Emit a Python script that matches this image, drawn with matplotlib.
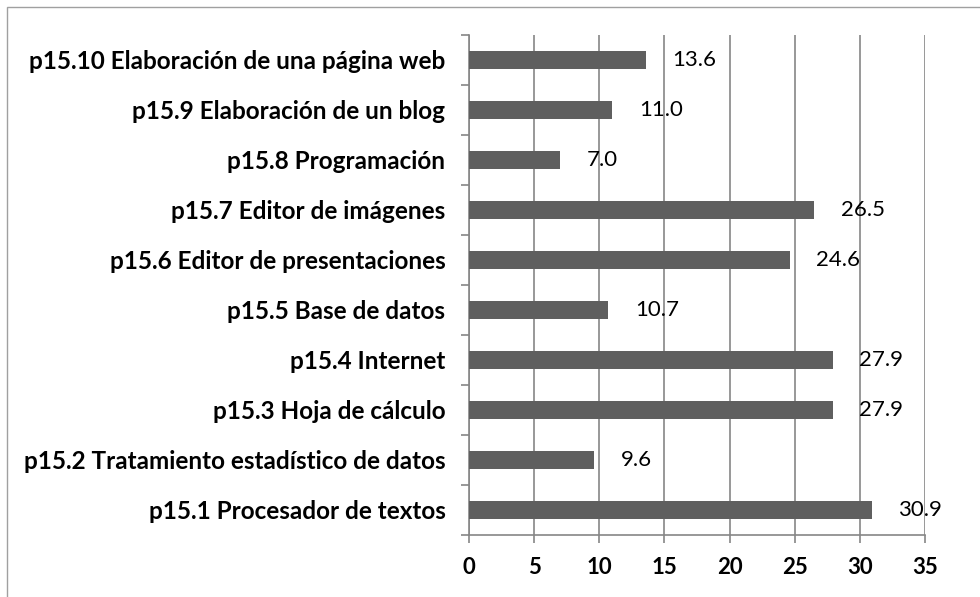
import numpy as np
import matplotlib.pyplot as plt
from matplotlib.patches import Rectangle

categorias = ['p15.1 Procesador de textos',
              'p15.2 Tratamiento estadístico de datos',
              'p15.3 Hoja de cálculo',
              'p15.4 Internet',
              'p15.5 Base de datos',
              'p15.6 Editor de presentaciones',
              'p15.7 Editor de imágenes',
              'p15.8 Programación',
              'p15.9 Elaboración de un blog',
              'p15.10 Elaboración de una página web']
valores = [30.9, 9.6, 27.9, 27.9, 10.7, 24.6, 26.5, 7.0, 11.0, 13.6]
ticks_x = [0, 5, 10, 15, 20, 25, 30, 35]

plt.rcParams['font.family'] = ['Lato', 'DejaVu Sans']

fig = plt.figure(figsize=(9.8, 5.97), dpi=100)
ax = fig.add_axes([0.4786, 0.1039, 0.4653, 0.8375])

idx = np.arange(len(categorias))
ax.barh(idx, valores, height=0.36, color='#5f5f5f', zorder=3)

for i, v in zip(idx, valores):
    ax.annotate('%.1f' % v, (v, i), xytext=(19, 0), textcoords='offset points',
                va='center', ha='left', fontsize=16, color='#000000', zorder=4)

ax.set_xlim(0, 35)
ax.set_ylim(-0.5, len(categorias) - 0.5)
ax.set_xticks(ticks_x)
ax.set_xticklabels([str(t) for t in ticks_x], fontsize=16, fontweight='bold')
ax.set_yticks(idx)
ax.set_yticklabels(categorias, fontsize=17.5, fontweight='bold')
ax.set_yticks(np.arange(-0.5, len(categorias)), minor=True)
ax.tick_params(axis='y', which='major', length=0, pad=17)
ax.tick_params(axis='y', which='minor', length=6, color='#868686', width=1.2)
ax.tick_params(axis='x', length=6, color='#868686', width=1.2, pad=10)

ax.grid(axis='x', color='#868686', linewidth=1.2, zorder=0)
for s in ['top', 'right']:
    ax.spines[s].set_visible(False)
for s in ['left', 'bottom']:
    ax.spines[s].set_color('#868686')
    ax.spines[s].set_linewidth(1.2)

# marco exterior del grafico
fig.patches.append(Rectangle((7 / 980, -0.05), 1.1, 1 - 7 / 597 + 0.05,
                             transform=fig.transFigure, fill=False,
                             edgecolor='#a0a0a0', linewidth=1))

fig.savefig('out.png', dpi=100)
